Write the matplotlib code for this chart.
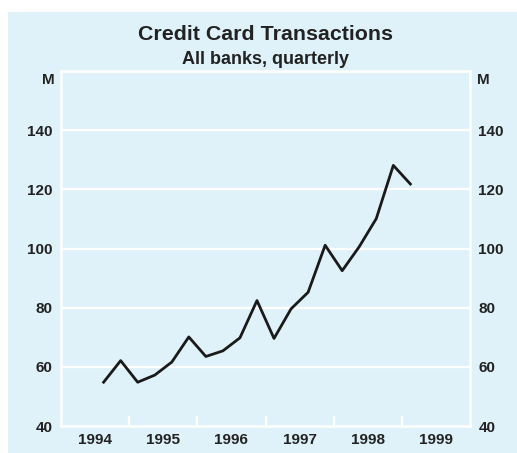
import numpy as np
import matplotlib.pyplot as plt
from matplotlib.patches import Rectangle

plt.rcParams['font.family'] = ['Liberation Sans', 'DejaVu Sans']

# quarterly data, mid-quarter positions
t = 1994.625 + 0.25*np.arange(19)
vals = [54.8, 62.1, 54.8, 57.2, 61.6, 70.1, 63.5, 65.4, 69.8, 82.4,
        69.6, 79.6, 85.2, 101.1, 92.5, 100.6, 110.1, 128.1, 121.8]
years = [1994, 1995, 1996, 1997, 1998, 1999]
yticks = [40, 60, 80, 100, 120, 140]

bg = '#dff2fa'
txt = '#222222'

fig = plt.figure(figsize=(5.17, 4.53), dpi=100, facecolor='white')
fig.patches.append(Rectangle((8/517, 0), 1, 1 - 12/453, transform=fig.transFigure,
                             facecolor=bg, edgecolor='none', zorder=-1))

ax = fig.add_axes([61/517, 27/453, 409/517, 355/453])
ax.set_zorder(2)
ax.set_facecolor(bg)
ax.set_xlim(1994, 2000)
ax.set_ylim(40, 160)

for y in yticks[1:]:
    ax.axhline(y, color='white', lw=1.6, zorder=1)
for s in ax.spines.values():
    s.set_color('white')
    s.set_linewidth(1.8)

ax.plot(t, vals, color='#1a1a1a', lw=2.0, zorder=3)

ax.set_xticks([1995, 1996, 1997, 1998, 1999])
ax.set_xticklabels([])
ax.set_xticks([y + 0.5 for y in years], minor=True)
ax.set_xticklabels([str(y) for y in years], minor=True)
ax.tick_params(axis='x', which='major', direction='in', length=7.5, width=1.6, color='white')
ax.tick_params(axis='x', which='minor', length=0, pad=5, labelsize=11, labelcolor=txt)
for lb in ax.get_xticklabels(minor=True):
    lb.set_fontweight('bold')

ax.set_yticks(yticks)
ax.set_yticklabels([str(v) for v in yticks])
ax.tick_params(axis='y', length=0, pad=6, labelsize=11, labelcolor=txt,
               labelright=True, right=False)
for lb in ax.get_yticklabels():
    lb.set_fontweight('bold')

ax.text(-6/409, 156.8, 'M', transform=ax.get_yaxis_transform(), ha='right', va='center',
        fontsize=11, fontweight='bold', color=txt)
ax.text(1 + 7/409, 156.8, 'M', transform=ax.get_yaxis_transform(), ha='left', va='center',
        fontsize=11, fontweight='bold', color=txt)

fig.text(266/517, 1 - 34/453, 'Credit Card Transactions', ha='center', va='center',
         fontsize=15.4, fontweight='bold', color=txt)
fig.text(266/517, 1 - 59/453, 'All banks, quarterly', ha='center', va='center',
         fontsize=13, fontweight='bold', color=txt)

fig.savefig('out.png', dpi=100, facecolor='white')
